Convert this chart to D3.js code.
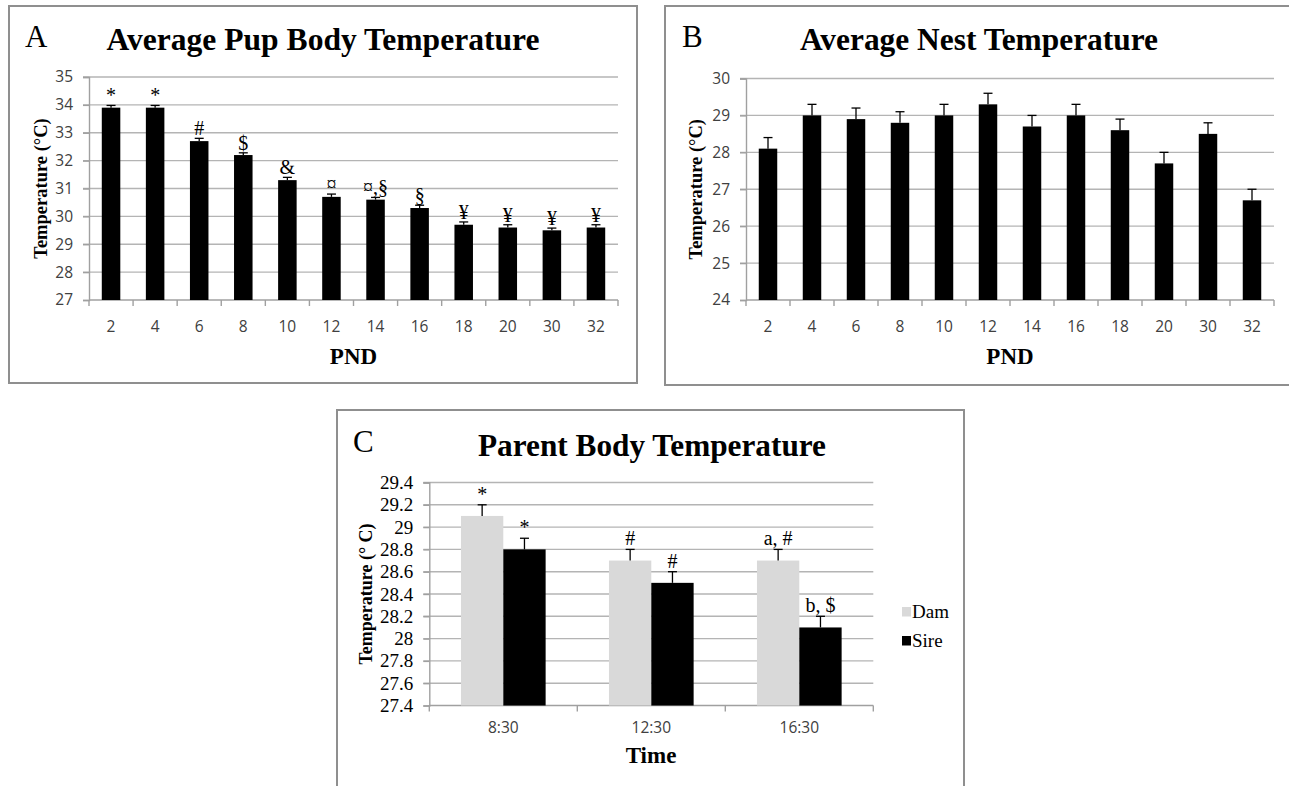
<!DOCTYPE html>
<html>
<head>
<meta charset="utf-8">
<script src="https://cdn.jsdelivr.net/npm/d3@7"></script>
<style>
  html, body { margin: 0; padding: 0; background: #fff; }
  svg { display: block; }
</style>
</head>
<body>
<svg id="fig" width="1289" height="786"></svg>
<script>
// ---- Panel A: average pup body temperature by postnatal day ----
const pndLabels = ["2", "4", "6", "8", "10", "12", "14", "16", "18", "20", "30", "32"];
const pupTemp   = [33.9, 33.9, 32.7, 32.2, 31.3, 30.7, 30.6, 30.3, 29.7, 29.6, 29.5, 29.6];
const pupErr    = [0.08, 0.08, 0.1, 0.08, 0.1, 0.1, 0.08, 0.1, 0.1, 0.1, 0.08, 0.1];
const pupMarks  = ["*", "*", "#", "$", "&", "¤", "¤,§", "§", "¥", "¥", "¥", "¥"];
const pupTicks  = [27, 28, 29, 30, 31, 32, 33, 34, 35];

// ---- Panel B: average nest temperature by postnatal day ----
const nestTemp  = [28.1, 29.0, 28.9, 28.8, 29.0, 29.3, 28.7, 29.0, 28.6, 27.7, 28.5, 26.7];
const nestErr   = [0.3, 0.3, 0.3, 0.3, 0.3, 0.3, 0.3, 0.3, 0.3, 0.3, 0.3, 0.3];
const nestTicks = [24, 25, 26, 27, 28, 29, 30];

// ---- Panel C: parent body temperature by time of day ----
const timeLabels = ["8:30", "12:30", "16:30"];
const seriesNames = ["Dam", "Sire"];
const damTemp   = [29.1, 28.7, 28.7];
const damErr    = [0.1, 0.1, 0.1];
const sireTemp  = [28.8, 28.5, 28.1];
const sireErr   = [0.1, 0.1, 0.1];
const damMarks  = ["*", "#", "a, #"];
const sireMarks = ["*", "#", "b, $"];
const parentTicks = [27.4, 27.6, 27.8, 28, 28.2, 28.4, 28.6, 28.8, 29, 29.2, 29.4];

const SERIF = "'Liberation Serif', 'Times New Roman', serif";
const SANS = "'Open Sans', 'DejaVu Sans', sans-serif";
const GRID = "#b4b4b4";
const AXIS = "#a0a0a0";
const FRAME = "#8f8f8f";

const svg = d3.select("#fig");

function frame(x0, y0, x1, y1) {
  svg.append("rect")
    .attr("x", x0).attr("y", y0)
    .attr("width", x1 - x0).attr("height", y1 - y0)
    .attr("fill", "#fff").attr("stroke", FRAME).attr("stroke-width", 2);
}

function textAt(g, x, y, str, opts) {
  const t = g.append("text").attr("x", x).attr("y", y).text(str)
    .attr("font-family", opts.family || SERIF)
    .attr("font-size", opts.size)
    .attr("font-weight", opts.weight || "normal")
    .attr("fill", opts.fill || "#000")
    .attr("text-anchor", opts.anchor || "middle");
  if (opts.len) t.attr("textLength", opts.len).attr("lengthAdjust", "spacingAndGlyphs");
  return t;
}

// Draws a y axis with gridlines and an x axis with ticks between categories.
function drawAxes(g, x, y, ticks, tickFmt, tickFont, tickSize, tickFill) {
  const [xa, xb] = x.range();
  const [yb, ya] = y.range();
  g.append("g").selectAll("line").data(ticks.filter(t => t !== y.domain()[0]))
    .join("line")
    .attr("x1", xa - 6).attr("x2", xb)
    .attr("y1", d => y(d)).attr("y2", d => y(d))
    .attr("stroke", GRID).attr("stroke-width", 1.4);
  const yAxis = d3.axisLeft(y).tickValues(ticks).tickSize(6).tickPadding(10).tickFormat(tickFmt);
  const ya_g = g.append("g").attr("transform", `translate(${xa},0)`).call(yAxis);
  ya_g.select(".domain").attr("stroke", AXIS).attr("stroke-width", 1.4);
  ya_g.selectAll(".tick line").attr("stroke", AXIS).attr("stroke-width", 1.4);
  ya_g.selectAll(".tick text").attr("font-family", tickFont).attr("font-size", tickSize)
    .attr("fill", tickFill);
  g.append("line").attr("x1", xa).attr("x2", xb).attr("y1", yb).attr("y2", yb)
    .attr("stroke", AXIS).attr("stroke-width", 1.4);
  const bounds = x.domain().map(d => x(d)).concat([xb]);
  g.append("g").selectAll("line").data(bounds).join("line")
    .attr("x1", d => d).attr("x2", d => d)
    .attr("y1", yb).attr("y2", yb + 6)
    .attr("stroke", AXIS).attr("stroke-width", 1.4);
}

function errorBar(g, cx, yTop, yVal, capW) {
  g.append("line").attr("x1", cx).attr("x2", cx).attr("y1", yVal).attr("y2", yTop)
    .attr("stroke", "#000").attr("stroke-width", 1.3);
  g.append("line").attr("x1", cx - capW / 2).attr("x2", cx + capW / 2)
    .attr("y1", yTop).attr("y2", yTop)
    .attr("stroke", "#000").attr("stroke-width", 1.3);
}

function singleBarPanel(opts) {
  const g = svg.append("g");
  const x = d3.scaleBand().domain(pndLabels).range(opts.xr).paddingInner(0).paddingOuter(0);
  const y = d3.scaleLinear().domain(opts.yd).range(opts.yr);
  drawAxes(g, x, y, opts.ticks, d3.format("d"), SANS, 15.5, "#404040");

  const bw = x.bandwidth() * 0.42;
  const cx = d => x(d) + x.bandwidth() / 2;
  g.append("g").selectAll("rect").data(opts.values).join("rect")
    .attr("x", (d, i) => cx(pndLabels[i]) - bw / 2)
    .attr("y", d => y(d))
    .attr("width", bw)
    .attr("height", d => y(opts.yd[0]) - y(d))
    .attr("fill", "#000");
  opts.values.forEach((v, i) => {
    errorBar(g, cx(pndLabels[i]), y(v + opts.err[i]), y(v), 9);
    if (opts.marks) {
      textAt(g, cx(pndLabels[i]), y(v + opts.err[i]) - 3, opts.marks[i], { size: 20 });
    }
  });
  pndLabels.forEach(c => {
    textAt(g, cx(c), opts.yr[0] + 32, c, { family: SANS, size: 15.5, fill: "#404040" });
  });
  textAt(g, (opts.xr[0] + opts.xr[1]) / 2, opts.yr[0] + 64, "PND", { size: 23, weight: "bold" });
  textAt(g, 0, 0, "Temperature (°C)", { size: 18.5, weight: "bold" })
    .attr("transform", `translate(${opts.ylabX},${(opts.yr[0] + opts.yr[1]) / 2}) rotate(-90)`);
  textAt(g, opts.titleX, 50, opts.title, { size: 32, weight: "bold", len: opts.titleLen });
  textAt(g, opts.letterX, 47, opts.letter, { size: 31, anchor: "start" });
}

frame(9, 6, 637, 383);
frame(665, 6, 1300, 385);
frame(337, 410, 964, 800);

singleBarPanel({
  xr: [89, 618], yr: [300, 77], yd: [27, 35], ticks: pupTicks,
  values: pupTemp, err: pupErr, marks: pupMarks,
  ylabX: 47, title: "Average Pup Body Temperature", titleX: 323, titleLen: 433,
  letter: "A", letterX: 25
});

singleBarPanel({
  xr: [746, 1274], yr: [300, 78.5], yd: [24, 30], ticks: nestTicks,
  values: nestTemp, err: nestErr, marks: null,
  ylabX: 702, title: "Average Nest Temperature", titleX: 979, titleLen: 358,
  letter: "B", letterX: 682
});

// ---- Panel C grouped bars ----
(function () {
  const g = svg.append("g");
  const x0 = d3.scaleBand().domain(timeLabels).range([429.3, 873.3]).paddingInner(0).paddingOuter(0);
  const x1 = d3.scaleBand().domain(seriesNames)
    .range([x0.bandwidth() * 0.214, x0.bandwidth() * 0.786]);
  const y = d3.scaleLinear().domain([27.4, 29.4]).range([705.5, 482.5]);
  drawAxes(g, x0, y, parentTicks, d => d3.format("~g")(d), SERIF, 19, "#000");

  const series = [
    { name: "Dam", vals: damTemp, err: damErr, marks: damMarks, color: "#d9d9d9" },
    { name: "Sire", vals: sireTemp, err: sireErr, marks: sireMarks, color: "#000" }
  ];
  series.forEach(s => {
    g.append("g").selectAll("rect").data(s.vals).join("rect")
      .attr("x", (d, i) => x0(timeLabels[i]) + x1(s.name))
      .attr("y", d => y(d))
      .attr("width", x1.bandwidth())
      .attr("height", d => y(27.4) - y(d))
      .attr("fill", s.color);
    s.vals.forEach((v, i) => {
      const cx = x0(timeLabels[i]) + x1(s.name) + x1.bandwidth() / 2;
      errorBar(g, cx, y(v + s.err[i]), y(v), 9);
      textAt(g, cx, y(v + s.err[i]) - 4, s.marks[i], { size: 20 });
    });
  });
  timeLabels.forEach(c => {
    textAt(g, x0(c) + x0.bandwidth() / 2, 733, c, { family: SANS, size: 15.5, fill: "#404040" });
  });
  textAt(g, 651, 763, "Time", { size: 23, weight: "bold" });
  textAt(g, 0, 0, "Temperature (° C)", { size: 18, weight: "bold" })
    .attr("transform", `translate(372,${(482.5 + 705.5) / 2}) rotate(-90)`);
  textAt(g, 652, 456, "Parent Body Temperature", { size: 32, weight: "bold", len: 348 });
  textAt(g, 353, 452, "C", { size: 31, anchor: "start" });

  const leg = g.append("g");
  series.forEach((s, i) => {
    const ly = 607 + i * 29;
    leg.append("rect").attr("x", 902).attr("y", ly).attr("width", 9).attr("height", 9.5)
      .attr("fill", s.color);
    textAt(leg, 912, ly + 10.5, s.name, { size: 19, anchor: "start" });
  });
})();
</script>
</body>
</html>
